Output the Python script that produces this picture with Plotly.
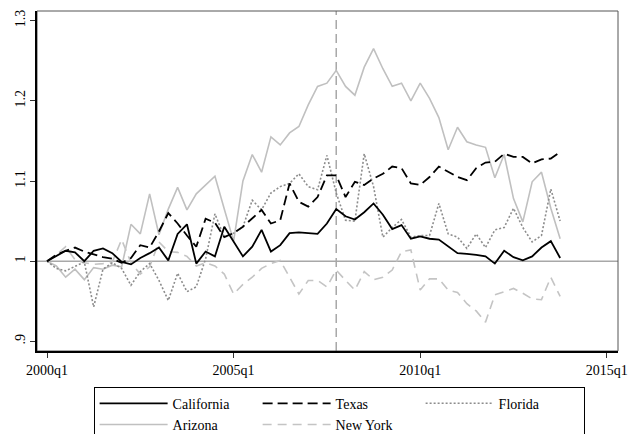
import plotly.graph_objects as go

quarters = [2000 + i / 4 for i in range(56)]  # 2000q1 .. 2013q4

california = [1.000, 1.007, 1.013, 1.011, 1.000, 1.013, 1.016, 1.010, 0.999, 0.996,
              1.004, 1.010, 1.017, 1.001, 1.034, 1.046, 0.997, 1.012, 1.006, 1.043,
              1.025, 1.006, 1.018, 1.039, 1.012, 1.020, 1.035, 1.036, 1.035, 1.034,
              1.047, 1.065, 1.056, 1.052, 1.061, 1.072, 1.058, 1.040, 1.045, 1.028,
              1.031, 1.028, 1.027, 1.019, 1.010, 1.009, 1.008, 1.006, 0.997, 1.013,
              1.005, 1.001, 1.006, 1.017, 1.025, 1.004]

texas = [1.000, 1.008, 1.013, 1.017, 1.012, 1.008, 1.005, 1.003, 0.998, 1.004,
         1.020, 1.017, 1.037, 1.060, 1.047, 1.032, 1.018, 1.053, 1.048, 1.030,
         1.035, 1.043, 1.053, 1.064, 1.047, 1.051, 1.097, 1.074, 1.068, 1.080,
         1.107, 1.107, 1.080, 1.099, 1.095, 1.103, 1.109, 1.118, 1.116, 1.097,
         1.095, 1.105, 1.118, 1.111, 1.105, 1.101, 1.116, 1.123, 1.124, 1.134,
         1.130, 1.130, 1.122, 1.127, 1.128, 1.136]

florida = [1.000, 0.991, 0.988, 0.994, 0.999, 0.943, 0.990, 0.998, 0.991, 0.970,
           0.987, 0.997, 0.976, 0.951, 0.985, 0.962, 0.968, 1.003, 1.059, 1.030,
           1.035, 1.043, 1.076, 1.064, 1.085, 1.093, 1.097, 1.109, 1.093, 1.089,
           1.132, 1.085, 1.051, 1.050, 1.134, 1.093, 1.030, 1.042, 1.052, 1.030,
           1.032, 1.032, 1.072, 1.034, 1.030, 1.016, 1.034, 1.017, 1.039, 1.042,
           1.066, 1.042, 1.024, 1.032, 1.090, 1.050]

arizona = [1.000, 0.994, 0.980, 0.990, 0.977, 0.992, 0.990, 0.995, 0.993, 1.046,
           1.034, 1.084, 1.033, 1.065, 1.092, 1.064, 1.084, 1.095, 1.106, 1.065,
           1.025, 1.100, 1.133, 1.111, 1.155, 1.145, 1.160, 1.168, 1.195, 1.218,
           1.222, 1.238, 1.218, 1.207, 1.242, 1.265, 1.240, 1.218, 1.222, 1.200,
           1.222, 1.203, 1.179, 1.139, 1.167, 1.149, 1.145, 1.142, 1.104, 1.133,
           1.078, 1.049, 1.099, 1.111, 1.066, 1.028]

new_york = [1.000, 1.008, 1.018, 1.002, 0.998, 0.996, 0.997, 0.999, 1.027, 0.998,
            0.984, 0.993, 1.024, 1.012, 1.011, 1.006, 0.994, 0.998, 0.994, 0.984,
            0.959, 0.971, 0.980, 0.991, 0.997, 1.001, 0.980, 0.959, 0.976, 0.976,
            0.968, 0.989, 0.976, 0.964, 0.987, 0.977, 0.980, 0.989, 1.012, 1.014,
            0.964, 0.978, 0.978, 0.964, 0.961, 0.947, 0.938, 0.924, 0.958, 0.962,
            0.966, 0.960, 0.953, 0.952, 0.980, 0.956]

x_tickvals = [2000, 2005, 2010, 2015]
x_ticktext = ["2000q1", "2005q1", "2010q1", "2015q1"]
y_tickvals = [0.9, 1.0, 1.1, 1.2, 1.3]
y_ticktext = [".9", "1", "1.1", "1.2", "1.3"]
event_quarter = 2007.75  # 2007q4
baseline = 1.0

FONT = "Liberation Serif, Times New Roman, serif"

fig = go.Figure()
series = [
    ("California", california, dict(color="black", width=1.8, dash="solid")),
    ("Texas", texas, dict(color="black", width=1.8, dash="10px,5px")),
    ("Florida", florida, dict(color="#8c8c8c", width=1.6, dash="2px,2px")),
    ("Arizona", arizona, dict(color="#c0c0c0", width=1.6, dash="solid")),
    ("New York", new_york, dict(color="#c4c4c4", width=1.6, dash="9px,6px")),
]
ranks = {"California": 1, "Texas": 2, "Florida": 3, "Arizona": 4, "New York": 5}
draw_order = ["Arizona", "New York", "Florida", "Texas", "California"]
traces = {}
for name, vals, line in series:
    traces[name] = go.Scatter(x=quarters, y=vals, mode="lines", name=name, line=line,
                              legendrank=ranks[name])
for name in draw_order:
    fig.add_trace(traces[name])

fig.add_shape(type="line", xref="paper", x0=0, x1=1, yref="y", y0=baseline, y1=baseline,
              line=dict(color="#a8a8a8", width=1.5), layer="below")
fig.add_shape(type="line", xref="x", x0=event_quarter, x1=event_quarter, yref="paper", y0=0, y1=1,
              line=dict(color="#a8a8a8", width=1.5, dash="9px,5px"), layer="below")
fig.add_shape(type="rect", xref="paper", yref="paper", x0=0, x1=1, y0=0, y1=1,
              line=dict(color="#555555", width=1), layer="below")

fig.update_layout(
    width=630, height=434,
    margin=dict(l=37, r=12, t=11, b=83, autoexpand=False),
    paper_bgcolor="white", plot_bgcolor="white",
    font=dict(family=FONT, size=14, color="black"),
    showlegend=True,
    legend=dict(orientation="h", x=0.52, xanchor="center", y=-0.105, yanchor="top",
                bordercolor="black", borderwidth=1, bgcolor="white",
                itemwidth=68, entrywidth=80, traceorder="normal", tracegroupgap=0,
                font=dict(family=FONT, size=14, color="black")),
    xaxis=dict(range=[1999.732, 2015.30], tickvals=x_tickvals, ticktext=x_ticktext,
               showgrid=False, zeroline=False, showline=True, linecolor="black", linewidth=1.5,
               ticks="outside", ticklen=5, tickwidth=1, tickcolor="#333", automargin=False,
               ticklabeloverflow="allow"),
    yaxis=dict(range=[0.888, 1.312], tickvals=y_tickvals, ticktext=y_ticktext, tickangle=-90,
               showgrid=False, zeroline=False, showline=True, linecolor="black", linewidth=1.5,
               ticks="outside", ticklen=5, tickwidth=1, tickcolor="#333", automargin=False),
)

fig.write_html("out.html", config={"displayModeBar": False},
               post_script="document.body.style.margin='0';document.body.style.overflow='hidden';")
